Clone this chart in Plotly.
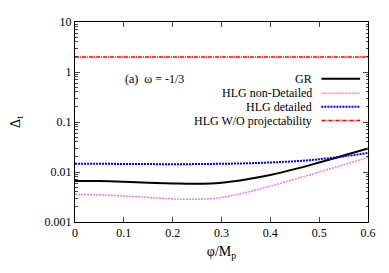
import plotly.graph_objects as go

phi = [0.0, 0.05, 0.1, 0.15, 0.2, 0.25, 0.3, 0.35, 0.4, 0.45, 0.5, 0.55, 0.6]
gr = [0.0066, 0.0066, 0.0064, 0.0061, 0.0059, 0.0058, 0.0061, 0.0071, 0.0087, 0.0114, 0.0155, 0.0213, 0.0295]
hlg_nd = [0.00355, 0.0035, 0.0033, 0.0031, 0.0029, 0.00285, 0.0031, 0.0039, 0.0052, 0.0072, 0.0100, 0.0140, 0.0195]
hlg_d = [0.0146, 0.0146, 0.0145, 0.0144, 0.0143, 0.0144, 0.0146, 0.0149, 0.0155, 0.0164, 0.0180, 0.0205, 0.0240]
hlg_wo = [2.0] * len(phi)

names = ["GR", "HLG non-Detailed", "HLG detailed", "HLG W/O projectability"]
series = [gr, hlg_nd, hlg_d, hlg_wo]
colors = ["#000000", "#f07cf0", "#0000ff", "#ff0000"]
dashes = ["solid", "2px,1px", "2px,1px", "4px,1px,1px,1px"]
widths = [2, 1.5, 2, 1.5]

ytickvals = [0.001, 0.01, 0.1, 1, 10]
yticktext = ["0.001", "0.01", "0.1", "1", "10"]
xtickvals = [0, 0.1, 0.2, 0.3, 0.4, 0.5, 0.6]
xticktext = ["0", "0.1", "0.2", "0.3", "0.4", "0.5", "0.6"]

font = "Liberation Serif"
fs = 12

fig = go.Figure()
for n, s, c, d, w in zip(names, series, colors, dashes, widths):
    fig.add_trace(go.Scatter(x=phi, y=s, mode="lines", name=n,
                             line=dict(color=c, dash=d, width=w, shape="spline"),
                             showlegend=False))

# manual gnuplot-style legend (text right-aligned, sample line on the right)
leg_y = [0.716, 0.644, 0.576, 0.507]
shapes = []
annotations = []
for n, c, d, w, yy in zip(names, colors, dashes, widths, leg_y):
    annotations.append(dict(x=0.814, y=yy, xref="paper", yref="paper", text=n,
                            showarrow=False, xanchor="right", yanchor="middle",
                            font=dict(family=font, size=fs, color="black")))
    shapes.append(dict(type="line", xref="paper", yref="paper", x0=0.841, x1=0.973,
                       y0=yy, y1=yy, line=dict(color=c, dash=d, width=w)))

annotations.append(dict(x=0.165, y=0.716, xref="paper", yref="paper",
                        text="(a)  ω = -1/3", showarrow=False, xanchor="left",
                        yanchor="middle", font=dict(family=font, size=fs, color="black")))

# page body has an 8px margin: figure is drawn offset by 8px, so size/margins compensate
fig.update_layout(
    width=381, height=265,
    margin=dict(l=65, r=21, t=7, b=51),
    paper_bgcolor="white", plot_bgcolor="white",
    font=dict(family=font, size=fs, color="black"),
    shapes=shapes, annotations=annotations,
    showlegend=False,
)
fig.update_xaxes(range=[0, 0.6], tickvals=xtickvals, ticktext=xticktext,
                 ticks="inside", ticklen=5, mirror="ticks", showline=True,
                 linecolor="black", linewidth=1, showgrid=False, zeroline=False,
                 title=dict(text="φ/M<sub>p</sub>", standoff=6),
                 tickfont=dict(size=fs))
fig.update_yaxes(type="log", range=[-3, 1], tickvals=ytickvals, ticktext=yticktext,
                 ticks="inside", ticklen=5, mirror="ticks", showline=True,
                 linecolor="black", linewidth=1, showgrid=False, zeroline=False,
                 minor=dict(ticks="inside", ticklen=2.5, dtick="D1", showgrid=False),
                 title=dict(text="Δ<sub>t</sub>", standoff=20),
                 tickfont=dict(size=fs))

fig.write_html("out.html")
